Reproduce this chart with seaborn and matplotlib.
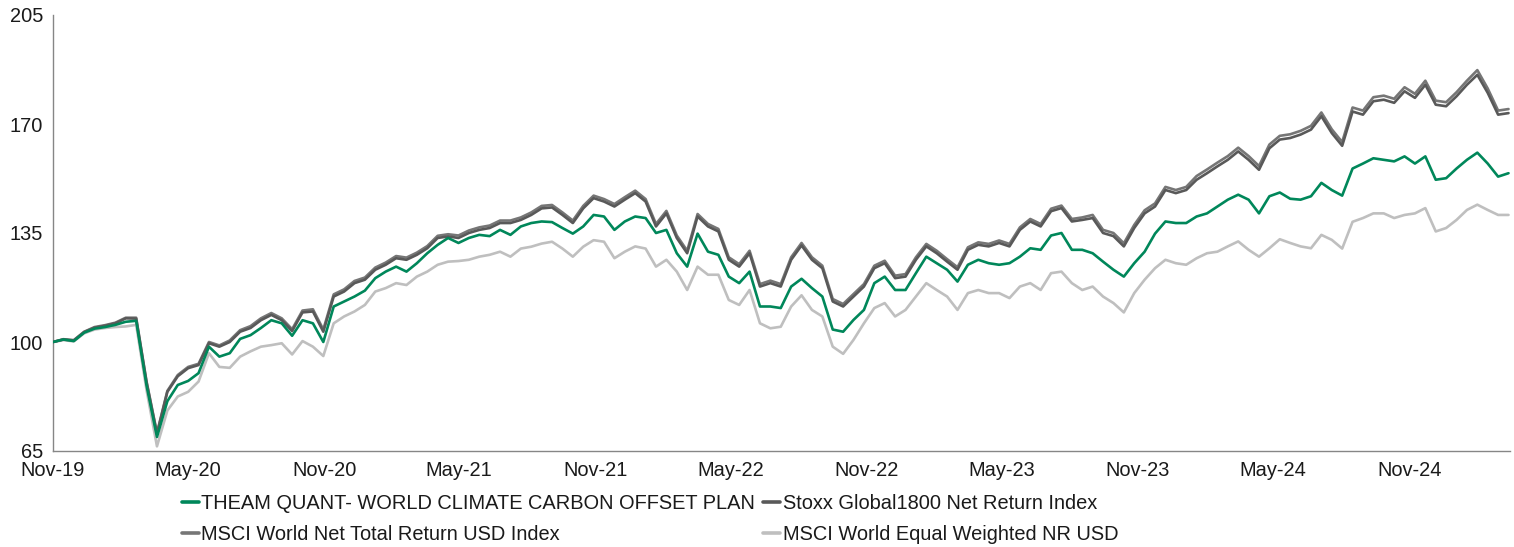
import numpy as np
import pandas as pd
import matplotlib
matplotlib.use("Agg")
import matplotlib.pyplot as plt
import matplotlib.dates as mdates
import seaborn as sns

# ---------------- data ----------------
start_date = "2019-11-01"
step = "14D"

theam = [100, 100.8, 100.3, 103, 104.3, 104.8, 105.5, 106.5, 106.8, 86,
         69.5, 81, 86.2, 87.5, 90, 98.5, 95.3, 96.4, 101, 102.2,
         104.5, 107, 106, 102, 107, 106, 100, 111.4, 113, 114.6,
         116.5, 120.5, 122.6, 124.2, 122.6, 125.3, 128.5, 131.2, 133.4, 131.8,
         133.4, 134.4, 134, 136, 134.4, 137.1, 138.2, 138.7, 138.5, 136.6,
         134.8, 137.1, 140.8, 140.3, 136, 138.7, 140.3, 139.8, 135, 136,
         128.5, 124.2, 134.8, 129, 128, 121, 118.9, 122.6, 111.4, 111.4,
         110.9, 117.8, 120.3, 117.3, 114.6, 104, 103.3, 107.1, 110.3, 118.9,
         121, 116.7, 116.7, 122.1, 127.4, 125.3, 123.2, 119.4, 124.8, 126.4,
         125.3, 124.8, 125.3, 127.4, 130.1, 129.6, 134.2, 135, 129.6, 129.6,
         128.5, 125.8, 123.2, 121, 125.3, 129, 134.8, 138.7, 138.2, 138.2,
         140.3, 141.3, 143.5, 145.7, 147.3, 145.7, 141.3, 146.8, 148, 146,
         145.7, 146.8, 151.1, 148.8, 147, 155.7, 157.3, 159, 158.5, 158,
         159.6, 157.3, 159.6, 152.1, 152.6, 155.7, 158.5, 160.8, 157.3, 153.1,
         154.2]

stoxx = [100, 100.8, 100.5, 103.2, 104.6, 105.2, 106, 107.6, 107.5, 87,
         70.5, 84, 89, 91.6, 92.6, 99.6, 98.5, 100, 103.3, 104.5,
         107, 108.7, 107, 103.5, 109.5, 109.8, 103.3, 114.6, 116.2, 118.9,
         120, 123.2, 124.8, 126.9, 126.4, 128, 130.1, 133.4, 133.9, 133.4,
         135, 136, 136.6, 138.2, 138.2, 139.2, 140.8, 142.9, 143.2, 140.8,
         138.2, 142.9, 146.2, 145.1, 143.5, 145.7, 147.8, 145.1, 137.1, 141.3,
         133.4, 128.5, 140.3, 137.1, 135.5, 126.4, 124.2, 128.5, 117.8, 118.9,
         117.8, 126.4, 131, 126.4, 123.7, 113, 111.4, 114.6, 117.8, 123.7,
         125.3, 120.5, 121, 126.4, 130.7, 128.5, 125.8, 123.2, 129.6, 131.2,
         130.7, 131.8, 130.7, 136, 138.7, 137.1, 142, 143, 138.7, 139.2,
         139.8, 135, 134, 130.7, 136.6, 141.3, 143.5, 148.8, 147.8, 148.8,
         152.1, 154.2, 156.4, 158.5, 161.2, 158.5, 155.3, 162.2, 165, 165.5,
         166.6, 168.2, 172.5, 167.1, 163, 174, 173, 177.3, 177.8, 176.8,
         180.5, 178.4, 182.6, 176.2, 175.7, 178.9, 182.6, 185.8, 180, 173,
         173.5]

msci_world = [100, 100.9, 100.6, 103.3, 104.8, 105.4, 106.2, 107.8, 107.8, 87.3,
              70.8, 84.3, 89.4, 92, 93, 100, 98.9, 100.5, 103.8, 105.1,
              107.6, 109.3, 107.6, 104.1, 110.1, 110.5, 104, 115.3, 116.9, 119.6,
              120.7, 123.9, 125.5, 127.6, 127.1, 128.7, 130.8, 134.1, 134.6, 134.2,
              135.8, 136.8, 137.4, 139, 139, 140, 141.6, 143.7, 144, 141.6,
              139, 143.7, 147, 145.9, 144.3, 146.5, 148.6, 145.9, 137.9, 142.1,
              134.2, 129.3, 141.1, 137.9, 136.3, 127.2, 125, 129.3, 118.6, 119.7,
              118.6, 127.2, 131.8, 127.2, 124.5, 113.8, 112.2, 115.4, 118.6, 124.5,
              126.1, 121.3, 121.8, 127.2, 131.5, 129.3, 126.6, 124, 130.4, 132,
              131.5, 132.6, 131.5, 136.8, 139.5, 137.9, 142.8, 143.8, 139.5, 140,
              140.8, 136, 135, 131.7, 137.6, 142.3, 144.5, 149.8, 148.8, 149.8,
              153.3, 155.4, 157.6, 159.7, 162.4, 159.7, 156.5, 163.4, 166.2, 166.7,
              167.8, 169.4, 173.7, 168.3, 164.2, 175.3, 174.3, 178.6, 179.1, 178.1,
              181.8, 179.7, 183.9, 177.5, 177, 180.2, 183.9, 187.3, 181.4, 174.3,
              174.8]

msci_ew = [100, 100.6, 100.2, 102.8, 104, 104.5, 104.8, 105, 105.5, 84.5,
           66.5, 78, 82.5, 84, 87.3, 96.4, 92, 91.7, 95.3, 97,
           98.5, 99, 99.6, 96, 100.3, 98.5, 95.5, 106, 108.2, 109.8,
           111.9, 116.2, 117.3, 118.9, 118.3, 121, 122.6, 124.8, 125.8, 126,
           126.4, 127.4, 128, 129, 127.4, 130, 130.6, 131.6, 132.2, 130,
           127.4, 130.6, 132.7, 132.2, 126.9, 129, 130.7, 130, 124.2, 126.4,
           122.6, 116.7, 124.2, 121.6, 121.6, 113.5, 111.9, 116.7, 106, 104.4,
           104.9, 111.4, 115, 110.3, 108.2, 98.5, 96.2, 100.7, 106, 110.9,
           112.5, 108.2, 110.3, 114.6, 118.9, 116.7, 114.6, 110.3, 115.7, 116.7,
           115.7, 115.7, 114.1, 117.8, 118.9, 116.7, 122.1, 122.6, 118.9, 116.7,
           117.8, 114.6, 112.5, 109.5, 115.7, 120, 123.7, 126.4, 125.3, 124.8,
           126.9, 128.5, 129, 130.7, 132.3, 129.6, 127.4, 130.1, 133, 131.8,
           130.7, 130.1, 134.4, 132.8, 130, 138.6, 139.8, 141.3, 141.3, 139.8,
           140.8, 141.3, 143, 135.5, 136.6, 139.2, 142.4, 144.1, 142.4, 140.8,
           140.8]

series_names = ["THEAM QUANT- WORLD CLIMATE CARBON OFFSET PLAN",
                "Stoxx Global1800 Net Return Index",
                "MSCI World Net Total Return USD Index",
                "MSCI World Equal Weighted NR USD"]
series_colors = ["#00875A", "#595959", "#767676", "#BFBFBF"]

y_ticks = [65, 100, 135, 170, 205]
x_tick_start = "2019-11-01"
x_tick_end = "2024-11-01"

# ---------------- build frame ----------------
dates = pd.date_range(start_date, periods=len(theam), freq=step)
df = pd.DataFrame({
    "date": np.concatenate([dates] * 4),
    "value": np.concatenate([theam, stoxx, msci_world, msci_ew]),
    "series": np.repeat(series_names, len(dates)),
})

# ---------------- style ----------------
sns.set_theme(style="white")
plt.rcParams["font.family"] = ["Liberation Sans Narrow", "Liberation Sans", "DejaVu Sans"]
FS = 14.4
plt.rcParams["font.size"] = FS

fig = plt.figure(figsize=(15.14, 5.47), dpi=100)
ax = fig.add_axes([53 / 1514, 1 - 451 / 547, (1510 - 53) / 1514, (451 - 15) / 547])

draw_order = [3, 2, 1, 0]
for i in draw_order:
    sub = df[df["series"] == series_names[i]]
    sns.lineplot(data=sub, x="date", y="value", ax=ax, color=series_colors[i],
                 linewidth=1.9, label=series_names[i], zorder=2 + (3 - i),
                 legend=False)

ax.set_ylim(65, 205)
ax.set_yticks(y_ticks)
ax.set_xlim(pd.Timestamp("2019-11-01"), pd.Timestamp("2025-03-16"))
ax.set_xticks(pd.date_range(x_tick_start, x_tick_end, freq="6MS"))
ax.xaxis.set_major_formatter(mdates.DateFormatter("%b-%y"))
ax.set_xlabel("")
ax.set_ylabel("")

for s in ["top", "right"]:
    ax.spines[s].set_visible(False)
for s in ["left", "bottom"]:
    ax.spines[s].set_color("#868686")
    ax.spines[s].set_linewidth(1.0)
ax.tick_params(axis="both", which="major", direction="out", length=5,
               width=1.0, color="#868686", labelsize=FS, labelcolor="#1a1a1a", pad=2)
ax.tick_params(axis="y", length=4, pad=3)

# legend: row-wise order THEAM, Stoxx / MSCI World, MSCI EW
handles = [plt.Line2D([], [], color=c, linewidth=2.6) for c in series_colors]
order = [0, 2, 1, 3]
fig.legend([handles[i] for i in order], [series_names[i] for i in order],
           ncol=2, loc="upper left", bbox_to_anchor=(182 / 1514, 1 - 494 / 547),
           frameon=False, fontsize=FS, handlelength=0.85, handletextpad=0.12,
           columnspacing=0.4, labelspacing=0.6, borderpad=0, borderaxespad=0,
           labelcolor="#1a1a1a")

fig.savefig("out.png", dpi=100)
